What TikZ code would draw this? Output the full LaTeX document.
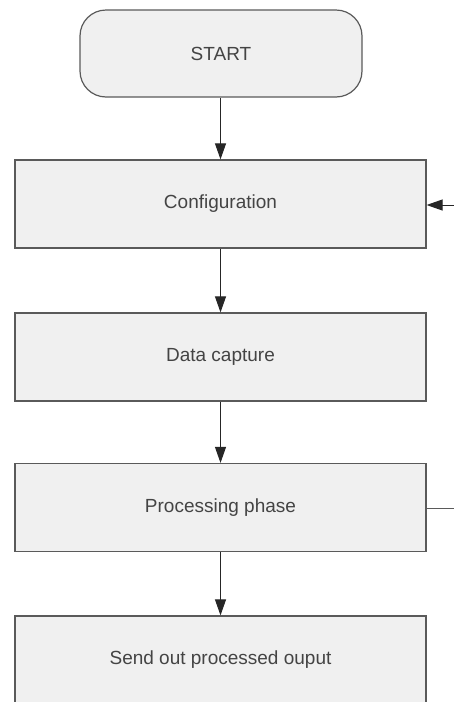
\documentclass[tikz,border=0pt]{standalone}
\usepackage{fontspec}
\setmainfont{Liberation Sans}
\usetikzlibrary{arrows.meta}
\definecolor{boxfill}{HTML}{F0F0F0}
\definecolor{boxline}{HTML}{5A5A5A}
\definecolor{txt}{HTML}{444444}
\begin{document}
\begin{tikzpicture}[x=1pt,y=-1pt,
  stepbox/.style={draw=boxline,fill=boxfill,line width=1.2pt,minimum width=411pt,minimum height=88pt,inner sep=0pt,text=txt,font=\fontsize{19}{22}\selectfont},
  flow/.style={draw=black!85,line width=1pt,-{Triangle[length=16pt,width=11pt]}}]
\useasboundingbox (0,0) rectangle (454,702);
\node[stepbox,minimum width=282pt,minimum height=87pt,rounded corners=26pt] (start) at (221,53.5) {START};
\node[stepbox] (config) at (220.5,204) {Configuration};
\node[stepbox] (capture) at (220.5,357) {Data capture};
\node[stepbox] (process) at (220.5,507.5) {Processing phase};
\node[stepbox] (send) at (220.5,660) {Send out processed ouput};
% the return line runs along the right edge, mostly outside the page
\coordinate (loopA) at (455,508);
\coordinate (loopB) at (455,205);
\draw[flow] (start.south -| config.north) -- (config.north);
\draw[flow] (config.south) -- (capture.north);
\draw[flow] (capture.south) -- (process.north);
\draw[flow] (process.south) -- (send.north);
\draw[draw=boxline,line width=1pt] (process.east |- loopA) -- (loopA) -- (loopB);
\draw[flow] (loopB) -- (config.east |- loopB);
\end{tikzpicture}
\end{document}
